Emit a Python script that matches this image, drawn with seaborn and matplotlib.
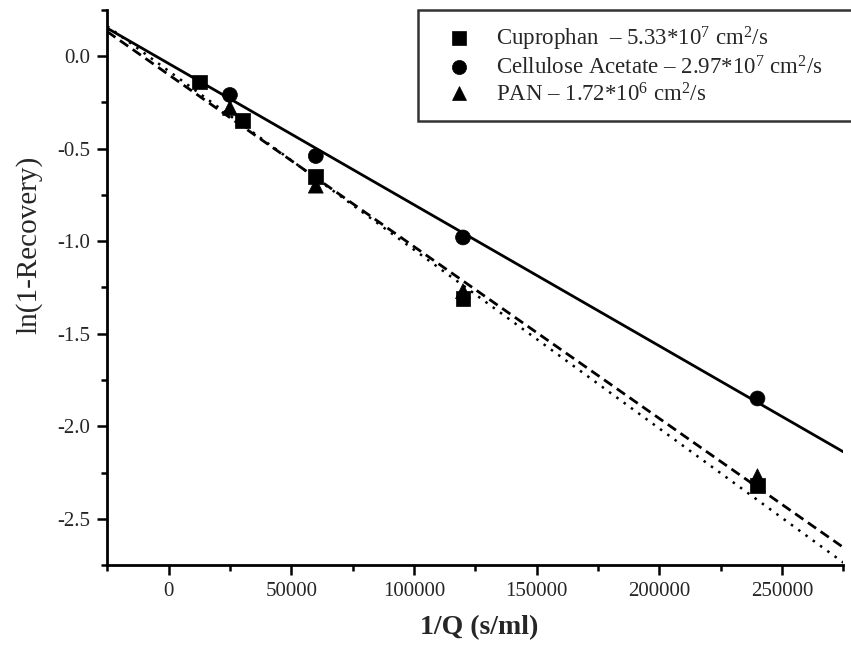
import numpy as np
import pandas as pd
import matplotlib
matplotlib.use("Agg")
import matplotlib.pyplot as plt
import seaborn as sns
from matplotlib.ticker import MultipleLocator

sns.set_theme(style="ticks")
plt.rcParams['font.family'] = ['Liberation Serif', 'DejaVu Serif']
plt.rcParams['mathtext.fontset'] = 'custom'
plt.rcParams['mathtext.rm'] = 'Liberation Serif'
plt.rcParams['mathtext.default'] = 'regular'

# ---- data ----
series_names = ["Cuprophan  – 5.33*10$^7$ cm$^2$/s",
                "Cellulose Acetate – 2.97*10$^7$ cm$^2$/s",
                "PAN – 1.72*10$^6$ cm$^2$/s"]
cupro_x = [12500, 30000, 60000, 120000, 240000]
cupro_y = [-0.14, -0.35, -0.65, -1.31, -2.32]
ca_x = [25000, 60000, 120000, 240000]
ca_y = [-0.21, -0.54, -0.98, -1.85]
pan_x = [25000, 60000, 120000, 240000]
pan_y = [-0.28, -0.70, -1.27, -2.27]
# fitted lines (slope, intercept)
fit_slopes = [-9.66e-6, -7.63e-6, -9.29e-6]
fit_intercepts = [-0.08, -0.04, -0.10]
x_range = [-25000, 275000]
y_ticks = [0.0, -0.5, -1.0, -1.5, -2.0, -2.5]
y_ticklabels = ["0.0", "-0.5", "-1.0", "-1.5", "-2.0", "-2.5"]

fit_styles = [(0, (1.0, 2.6)), "-", (0, (3.6, 2.0))]
fit_widths = [1.8, 2.0, 2.0]

df = pd.concat([
    pd.DataFrame({"x": cupro_x, "y": cupro_y, "s": series_names[0]}),
    pd.DataFrame({"x": ca_x, "y": ca_y, "s": series_names[1]}),
    pd.DataFrame({"x": pan_x, "y": pan_y, "s": series_names[2]}),
])

fig = plt.figure(figsize=(8.51, 6.54), dpi=100)
ax = fig.add_axes([0.126, 0.136, 0.865, 0.849])

for sl, ic, ls, lw in zip(fit_slopes, fit_intercepts, fit_styles, fit_widths):
    xs = np.array(x_range, dtype=float)
    ax.plot(xs, ic + sl * xs, color="black", linestyle=ls, linewidth=lw, zorder=2)

markers = {series_names[0]: "s", series_names[1]: "o", series_names[2]: "^"}
sns.scatterplot(data=df, x="x", y="y", style="s", markers=markers,
                color="black", s=115, edgecolor="black", linewidth=0.5,
                ax=ax, zorder=3, legend=True)
handles, labels = ax.get_legend_handles_labels()
if ax.get_legend() is not None:
    ax.get_legend().remove()

ax.set_xlim(*x_range)
ax.set_ylim(-2.75, 0.25)
ax.xaxis.set_major_locator(MultipleLocator(50000))
ax.xaxis.set_minor_locator(MultipleLocator(25000))
ax.yaxis.set_minor_locator(MultipleLocator(0.25))
ax.set_yticks(y_ticks)
ax.set_yticklabels(y_ticklabels)
ax.tick_params(which="major", direction="out", length=7, width=1.8, labelsize=15,
               color="black", pad=5)
ax.tick_params(which="minor", direction="out", length=4.5, width=1.8, color="black")
for side in ["top", "right"]:
    ax.spines[side].set_visible(False)
for side in ["left", "bottom"]:
    ax.spines[side].set_linewidth(2.0)
    ax.spines[side].set_color("black")

ax.set_xlabel("1/Q (s/ml)", fontsize=20, fontweight="bold")
ax.set_ylabel("ln(1-Recovery)", fontsize=21)
ax.xaxis.set_label_coords(0.505, -0.09)
ax.yaxis.set_label_coords(-0.088, 0.577)

x0 = 418 / 851
y1 = 1 - 10 / 654
y0 = 1 - 118 / 654
leg = fig.legend(handles, labels, loc="upper left",
                 bbox_to_anchor=(x0, y0, 1.01 - x0, y1 - y0), mode="expand",
                 frameon=True, fontsize=16.5, fancybox=False, edgecolor="black",
                 borderpad=0.65, handlelength=2.3, handletextpad=0.45,
                 labelspacing=0.15, markerscale=0.95, borderaxespad=0)
leg.get_frame().set_linewidth(1.8)

fig.savefig("out.png", dpi=100)
